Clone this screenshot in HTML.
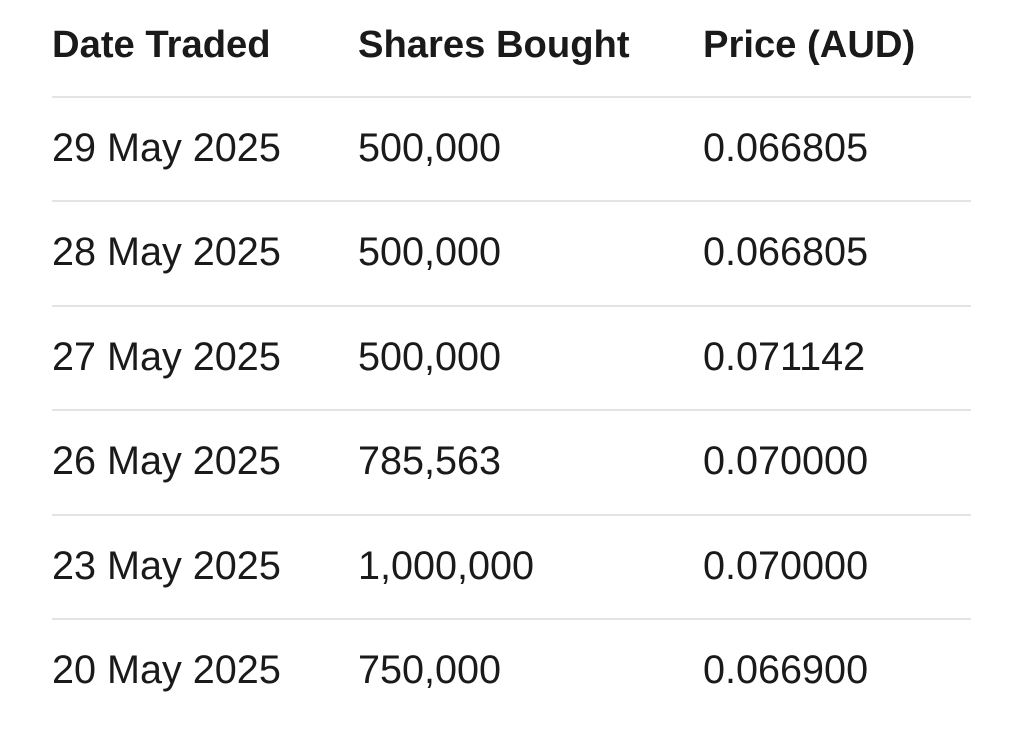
<!DOCTYPE html>
<html><head><meta charset="utf-8"><style>
body{margin:0;width:1024px;height:733px;background:#fff;font-family:"Liberation Sans",sans-serif;color:#1a1a1a;position:relative;overflow:hidden}
.t{position:absolute;white-space:nowrap;line-height:1;transform:translateY(-50%)}
.h{font-weight:bold;font-size:38.2px}
.c{font-size:39.6px}
.l{position:absolute;left:52px;width:919px;height:2px;background:#e4e4e6}
</style></head><body>
<div class="t h" style="left:52px;top:45px">Date Traded</div>
<div class="t h" style="left:358px;top:45px">Shares Bought</div>
<div class="t h" style="left:703px;top:45px">Price (AUD)</div>
<div class="l" style="top:96px"></div>
<div class="l" style="top:200px"></div>
<div class="l" style="top:305px"></div>
<div class="l" style="top:409px"></div>
<div class="l" style="top:514px"></div>
<div class="l" style="top:618px"></div>

<div class="t c" style="left:52px;top:149px">29 May 2025</div>
<div class="t c" style="left:358px;top:149px">500,000</div>
<div class="t c" style="left:703px;top:149px">0.066805</div>

<div class="t c" style="left:52px;top:253px">28 May 2025</div>
<div class="t c" style="left:358px;top:253px">500,000</div>
<div class="t c" style="left:703px;top:253px">0.066805</div>

<div class="t c" style="left:52px;top:358px">27 May 2025</div>
<div class="t c" style="left:358px;top:358px">500,000</div>
<div class="t c" style="left:703px;top:358px">0.071142</div>

<div class="t c" style="left:52px;top:462px">26 May 2025</div>
<div class="t c" style="left:358px;top:462px">785,563</div>
<div class="t c" style="left:703px;top:462px">0.070000</div>

<div class="t c" style="left:52px;top:567px">23 May 2025</div>
<div class="t c" style="left:358px;top:567px">1,000,000</div>
<div class="t c" style="left:703px;top:567px">0.070000</div>

<div class="t c" style="left:52px;top:671px">20 May 2025</div>
<div class="t c" style="left:358px;top:671px">750,000</div>
<div class="t c" style="left:703px;top:671px">0.066900</div>
</body></html>
